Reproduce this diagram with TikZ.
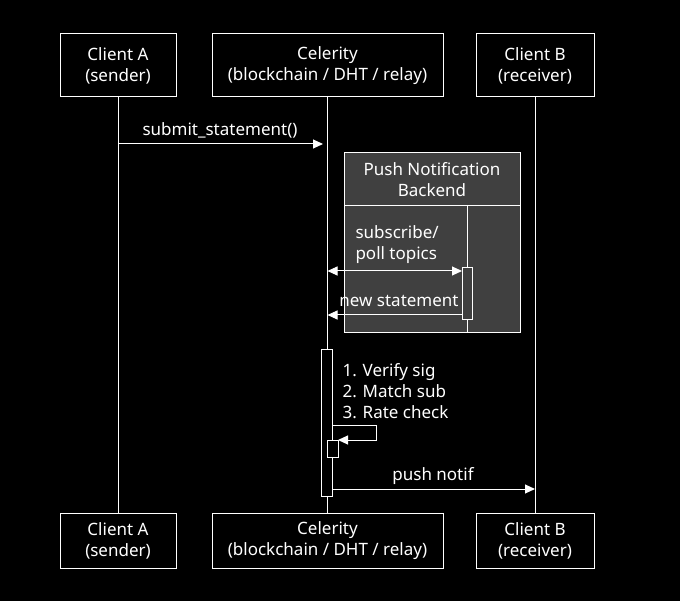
\documentclass[tikz,border=0pt]{standalone}
\usepackage{fontspec}
\setmainfont{Noto Sans}
\usetikzlibrary{arrows.meta}
\begin{document}
\begin{tikzpicture}[x=1pt,y=-1pt,
  every node/.style={font=\fontsize{17}{21}\selectfont,text=white},
  part/.style={draw=white,line width=1pt,fill=black,minimum width=#1,minimum height=63pt,align=center,inner sep=0pt},
  life/.style={white,line width=1pt},
  msg/.style={white,line width=1pt,-{Triangle[length=10pt,width=9pt]}},
  act/.style={draw=white,line width=1pt,fill=black}]
\fill[black] (0,0) rectangle (680,601);
\useasboundingbox (0,0) rectangle (680,601);
% participants
\node[part=116pt] (A) at (118,65.5) {Client A\\(sender)};
\node[part=231pt] (C) at (327.5,65.5) {Celerity\\(blockchain / DHT / relay)};
\node[part=118pt] (B) at (535,65.5) {Client B\\(receiver)};
\node[part=116pt,minimum height=55pt] (A2) at (118,540.5) {Client A\\(sender)};
\node[part=231pt,minimum height=55pt] (C2) at (327.5,540.5) {Celerity\\(blockchain / DHT / relay)};
\node[part=118pt,minimum height=55pt] (B2) at (535,540.5) {Client B\\(receiver)};
\draw[life] (A.south) -- (A2.north);
\draw[life] (B.south) -- (B2.north);
\draw[life] (327.5,97) -- (327.5,513);
% push notification backend
\fill[gray!50!black] (344,153) rectangle (520,333);
\draw[white,line width=1pt] (344,153) rectangle (520,206);
\draw[white,line width=1pt] (344,206) -- (520,206) -- (520,333) -- (344,333) -- (344,285);
\draw[white,line width=0.8pt] (344,206) -- (344,285);
\node[align=center] (P) at (432,180) {Push Notification\\Backend};
\coordinate (Pl) at (467,206);
\coordinate (Pb) at (467,333);
\draw[life] (Pl) -- (Pb);
\draw[act,fill=gray!50!black] (462,268) rectangle (472,320);
\coordinate (pa) at (462,271);
\coordinate (ca) at (327.5,271);
\draw[white,line width=1pt,{Triangle[length=10pt,width=9pt]}-{Triangle[length=10pt,width=9pt]}] (ca) -- (pa);
\node[anchor=west,align=left] at (352,245) {subscribe/\\poll topics};
\coordinate (pb) at (462,315);
\coordinate (cb) at (327.5,315);
\draw[msg] (pb) -- (cb);
\node at (399,301) {new statement};
% submit
\coordinate (sa) at (118,144);
\coordinate (sc) at (323,144);
\draw[msg] (sa) -- (sc);
\node at (220,130) {submit\_statement()};
% activation
\draw[act] (321,350) rectangle (332,496);
\node[anchor=west,align=left] at (339,391) {1. Verify sig\\2. Match sub\\3. Rate check};
\coordinate (s1) at (332,425);
\coordinate (s2) at (376,425);
\coordinate (s3) at (376,440);
\coordinate (s4) at (338,440);
\draw[msg] (s1) -- (s2) -- (s3) -- (s4);
\draw[act] (327,440) rectangle (338,457);
\coordinate (pn1) at (332,489);
\coordinate (pn2) at (535,489);
\draw[msg] (pn1) -- (pn2);
\node at (433,476) {push notif};
\end{tikzpicture}
\end{document}
